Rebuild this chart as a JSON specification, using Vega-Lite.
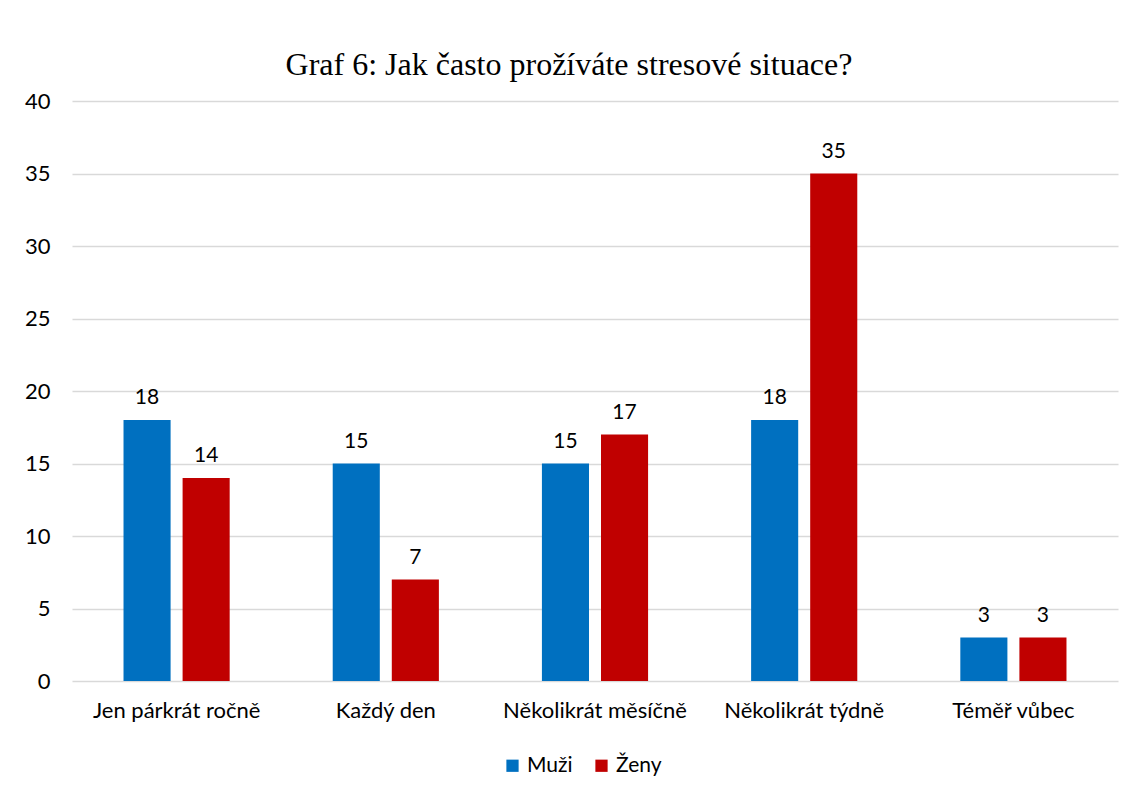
{
  "$schema": "https://vega.github.io/schema/vega-lite/v6.json",
  "width": 1046,
  "height": 580,
  "autosize": {"type": "none"},
  "padding": {"left": 72, "top": 101, "right": 21, "bottom": 115},
  "background": "white",
  "title": {
    "text": "Graf 6: Jak často prožíváte stresové situace?",
    "font": "Liberation Serif",
    "fontSize": 32,
    "fontWeight": "normal",
    "color": "#000000",
    "anchor": "middle",
    "baseline": "alphabetic",
    "offset": 24,
    "dx": -26,
    "dy": 41
  },
  "data": {
    "values": [
      {"kategorie": "Jen párkrát ročně", "pohlavi": "Muži", "pocet": 18},
      {"kategorie": "Jen párkrát ročně", "pohlavi": "Ženy", "pocet": 14},
      {"kategorie": "Každý den", "pohlavi": "Muži", "pocet": 15},
      {"kategorie": "Každý den", "pohlavi": "Ženy", "pocet": 7},
      {"kategorie": "Několikrát měsíčně", "pohlavi": "Muži", "pocet": 15},
      {"kategorie": "Několikrát měsíčně", "pohlavi": "Ženy", "pocet": 17},
      {"kategorie": "Několikrát týdně", "pohlavi": "Muži", "pocet": 18},
      {"kategorie": "Několikrát týdně", "pohlavi": "Ženy", "pocet": 35},
      {"kategorie": "Téměř vůbec", "pohlavi": "Muži", "pocet": 3},
      {"kategorie": "Téměř vůbec", "pohlavi": "Ženy", "pocet": 3}
    ]
  },
  "encoding": {
    "x": {
      "field": "kategorie",
      "type": "nominal",
      "sort": null,
      "scale": {"paddingInner": 0, "paddingOuter": 0},
      "axis": {
        "title": null,
        "labelAngle": 0,
        "labelFont": "Lato",
        "labelFontSize": 22,
        "labelColor": "#000000",
        "labelPadding": 19,
        "labelLimit": 400,
        "ticks": false,
        "domain": false,
        "grid": false
      }
    },
    "xOffset": {
      "field": "pohlavi",
      "type": "nominal",
      "scale": {"paddingInner": 0.203, "paddingOuter": 0.872}
    },
    "y": {
      "field": "pocet",
      "type": "quantitative",
      "scale": {"domain": [0, 40]},
      "axis": {
        "title": null,
        "values": [0, 5, 10, 15, 20, 25, 30, 35, 40],
        "labelFont": "Lato",
        "labelFontSize": 22,
        "labelColor": "#000000",
        "labelPadding": 22,
        "ticks": false,
        "domain": false,
        "gridColor": "#d9d9d9",
        "gridWidth": 1.5
      }
    }
  },
  "layer": [
    {
      "mark": {"type": "bar"},
      "encoding": {
        "color": {
          "field": "pohlavi",
          "type": "nominal",
          "scale": {"domain": ["Muži", "Ženy"], "range": ["#0070C0", "#C00000"]},
          "legend": {
            "title": null,
            "orient": "none",
            "direction": "horizontal",
            "legendX": 430,
            "legendY": 654,
            "symbolType": "square",
            "symbolSize": 150,
            "symbolStrokeWidth": 0,
            "labelFont": "Lato",
            "labelFontSize": 21,
            "labelColor": "#000000",
            "columnPadding": 18,
            "labelOffset": 4
          }
        }
      }
    },
    {
      "mark": {"type": "text", "baseline": "bottom", "dy": -12, "font": "Lato", "fontSize": 21, "color": "#000000"},
      "encoding": {
        "text": {"field": "pocet", "type": "quantitative"}
      }
    }
  ],
  "config": {"view": {"stroke": null}}
}
